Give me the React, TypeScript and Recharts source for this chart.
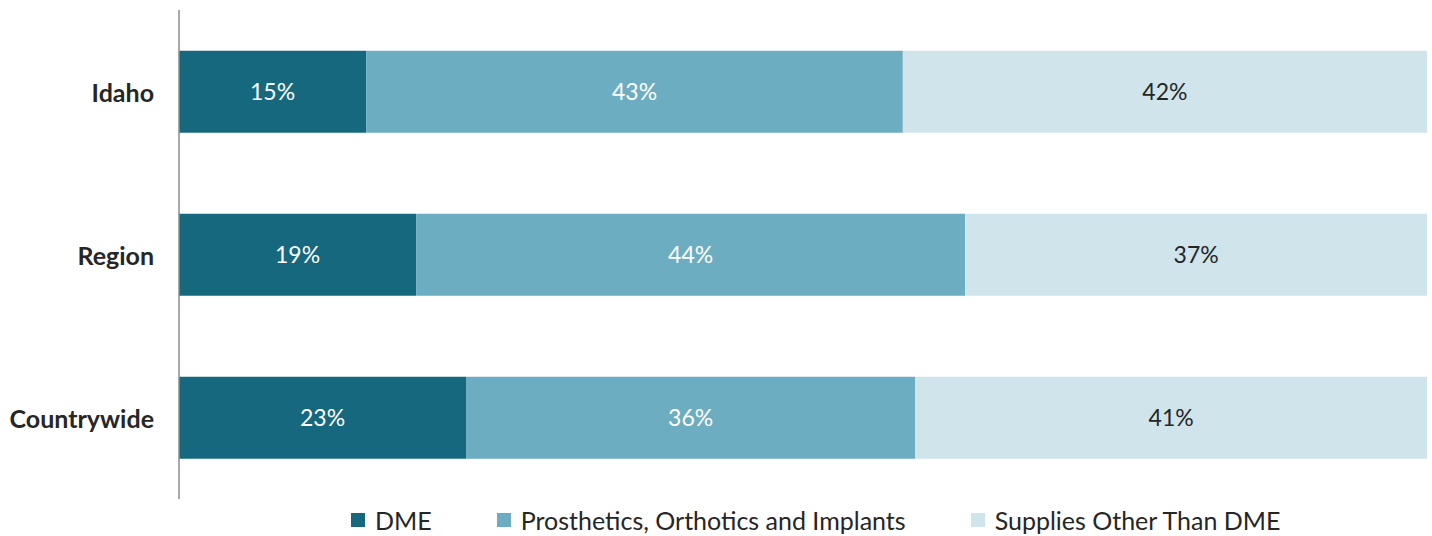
import React from 'react'
import { BarChart, Bar, XAxis, YAxis, LabelList } from 'recharts'

const categories = ['Idaho', 'Region', 'Countrywide']
const dme = [15, 19, 23]
const prosthetics = [43, 44, 36]
const supplies = [42, 37, 41]

const seriesNames = ['DME', 'Prosthetics, Orthotics and Implants', 'Supplies Other Than DME']
const seriesKeys = ['dme', 'pro', 'sup']
const colors = ['#15687E', '#6CADC1', '#CFE5EB']
const labelColors = ['#FFFFFF', '#FFFFFF', '#262626']

const FONT = 'Lato, "Noto Sans", sans-serif'

const data = categories.map((name, i) => ({
  name,
  dme: dme[i],
  pro: prosthetics[i],
  sup: supplies[i],
}))

const CategoryTick = (props: any) => {
  const { x, y, payload } = props
  return (
    <text
      x={x - 17}
      y={y}
      textAnchor="end"
      dominantBaseline="central"
      fill="#262626"
      fontWeight={700}
      fontSize={25}
      fontFamily={FONT}
    >
      {payload.value}
    </text>
  )
}

function LegendRow() {
  return (
    <div
      style={{
        position: 'absolute',
        left: 351,
        top: 505,
        height: 30,
        display: 'flex',
        alignItems: 'center',
        fontFamily: FONT,
        fontSize: 25,
        color: '#262626',
        whiteSpace: 'nowrap',
      }}
    >
      {seriesNames.map((n, i) => (
        <div key={n} style={{ display: 'flex', alignItems: 'center', marginRight: 65 }}>
          <span style={{ width: 14, height: 14, background: colors[i], display: 'inline-block', marginRight: 10 }} />
          <span>{n}</span>
        </div>
      ))}
    </div>
  )
}

export default function App() {
  return (
    <div style={{ position: 'absolute', left: 0, top: 0, width: 1432, height: 536, background: '#fff' }}>
      <BarChart
        width={1432}
        height={536}
        data={data}
        layout="vertical"
        margin={{ top: 10, right: 5, bottom: 37, left: 0 }}
        barCategoryGap="25%"
      >
        <XAxis type="number" domain={[0, 100]} hide />
        <YAxis
          type="category"
          dataKey="name"
          width={179}
          axisLine={{ stroke: '#8C8C8C', strokeWidth: 1.5 }}
          tickLine={false}
          tick={<CategoryTick />}
        />
        {seriesKeys.map((k, i) => (
          <Bar key={k} dataKey={k} stackId="a" fill={colors[i]} isAnimationActive={false}>
            <LabelList
              dataKey={k}
              position="center"
              formatter={(v: any) => `${v}%`}
              fill={labelColors[i]}
              fontSize={23}
              fontFamily={FONT}
            />
          </Bar>
        ))}
      </BarChart>
      <LegendRow />
    </div>
  )
}
